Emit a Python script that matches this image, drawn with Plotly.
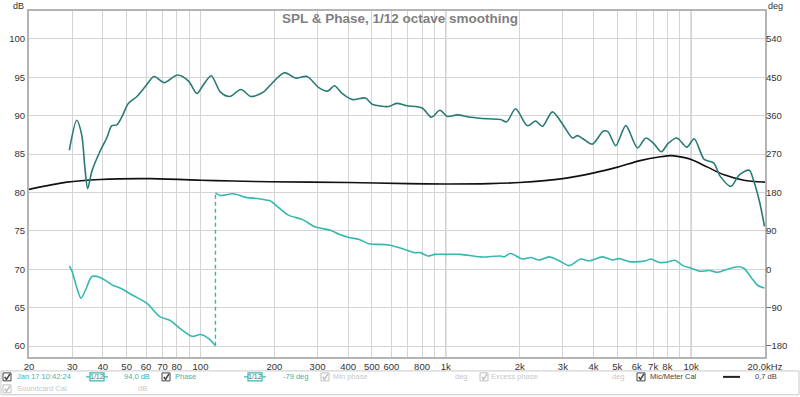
import plotly.graph_objects as go

# ---------------- data ----------------
spl_freq = [29.2, 31.3, 32.8, 33.8, 34.7, 36.1, 39.0, 41.5, 43.5, 45.6, 47.9, 50.8, 55.1, 59.6,
            64.7, 71.1, 80.6, 89.4, 96.7, 102.6, 110.6, 120.4, 131.4, 146.3, 160.7, 180.9,
            192.7, 219.7, 243.7, 272, 303.5, 330, 351.6, 377.7, 415, 470, 501, 585.7, 629, 696,
            801, 873, 946, 1014, 1113, 1262, 1476, 1673, 1771, 1925, 2150, 2325, 2476, 2720,
            3034, 3282, 3440, 3660, 3960, 4391, 4585, 4930, 5415, 6046, 6536, 7026, 7570, 8058,
            8748, 9606, 10291, 11300, 12345, 13140, 14520, 15710, 17260, 17990, 18970, 19900]
spl_db = [85.5, 89.4, 87.5, 83.2, 80.5, 82.8, 85.4, 87.1, 88.7, 88.8, 89.9, 91.6, 92.5, 93.8,
          95.1, 94.3, 95.3, 94.5, 92.9, 94.0, 95.2, 93.1, 92.5, 93.4, 92.5, 93.1,
          94.0, 95.6, 94.9, 95.1, 93.65, 93.2, 93.9, 92.9, 92.1, 92.3, 91.5, 91.2, 91.6, 91.3,
          91.0, 89.8, 90.7, 89.9, 90.1, 89.8, 89.6, 89.5, 89.2, 90.9, 88.7, 89.3, 88.6, 90.5,
          88.6, 87.1, 87.4, 86.9, 86.3, 88.0, 87.9, 86.1, 88.7, 85.8, 87.1, 86.4, 85.3, 86.4,
          87.1, 85.9, 87.0, 84.3, 83.85, 82.1, 80.8, 82.3, 82.9, 81.5, 78.9, 75.6]

phase_freq_lo = [29.2, 29.9, 31.2, 32.6, 34.2, 36.1, 39.0, 44.1, 47.0, 53.4, 60.6, 68.2, 75.3,
                 82.6, 92.3, 100, 108.4, 115.1]
phase_deg_lo = [7, -3, -40, -68, -45, -17, -19, -38, -44, -62, -80, -111, -120,
                -139, -157, -153, -163, -179]

phase_freq_hi = [115.1, 120.4, 136, 154.8, 170.9, 187, 193, 228, 259.6, 294.5, 339, 367, 407,
                 441.5, 486, 585.7, 696, 743, 788, 845, 900, 1000, 1151, 1384, 1673, 1726, 1837,
                 2051, 2218, 2400, 2635, 2897, 3184, 3552, 3840, 4350, 4780, 5090, 5590, 6536,
                 6855, 7420, 8000, 8580, 9240, 10000, 10800, 11870, 12850, 14140, 15480, 16400,
                 17560, 18700, 19900]
phase_deg_hi = [179, 173, 177, 168, 166, 162, 160, 127, 117, 99, 91.5, 82, 74,
                70.6, 60, 57, 44.6, 39, 39, 31, 35, 35, 35, 29, 31, 29, 37,
                24, 27.7, 21.6, 29, 20, 8.6, 24, 20, 29, 22, 25, 18, 20,
                24, 16, 17, 21, 8.6, 2.5, -4.6, -3, -7, 0.7, 6, 2.5,
                -19, -38, -44]

cal_freq = [20, 28.5, 39, 62.4, 100, 136, 191, 400, 700, 1000, 1500, 2000, 3000, 4016, 5011,
            6192, 7500, 8300, 8810, 10000, 11660, 13630, 16400, 20000]
cal_db = [80.4, 81.35, 81.7, 81.8, 81.6, 81.5, 81.4, 81.3, 81.15, 81.1, 81.15, 81.3, 81.8, 82.55,
          83.3, 84.15, 84.65, 84.8, 84.7, 84.3, 83.3, 82.3, 81.6, 81.35]

x_grid = [20, 30, 40, 50, 60, 70, 80, 90, 100, 200, 300, 400, 500, 600, 700, 800, 900, 1000,
          2000, 3000, 4000, 5000, 6000, 7000, 8000, 9000, 10000, 20000]
x_labels = ["20", "30", "40", "50", "60", "70", "80", "", "100", "200", "300", "400", "500",
            "600", "", "800", "", "1k", "2k", "3k", "4k", "5k", "6k", "7k", "8k", "", "10k",
            "20,0kHz"]
x_major = [100, 1000, 10000]
db_ticks = [60, 65, 70, 75, 80, 85, 90, 95, 100]
deg_ticks = [-180, -90, 0, 90, 180, 270, 360, 450, 540]

# ---------------- styling ----------------
SPL_C = "#2a7a74"
PH_C = "#35b8ae"
FONT = "Liberation Sans"
W, H = 800, 397
L, R, T, B = 29, 35, 9, 40
PW, PH = W - L - R, H - T - B


def px(x):
    return (x - L) / PW


def py(y):
    return (H - B - y) / PH


fig = go.Figure()
fig.add_trace(go.Scatter(x=cal_freq, y=cal_db, mode="lines", line=dict(color="#111111", width=1.6,
                         shape="spline", smoothing=0.8), yaxis="y", hoverinfo="skip"))
fig.add_trace(go.Scatter(x=spl_freq, y=spl_db, mode="lines", line=dict(color=SPL_C, width=1.6,
                         shape="spline", smoothing=0.8), yaxis="y", hoverinfo="skip"))
fig.add_trace(go.Scatter(x=phase_freq_lo, y=phase_deg_lo, mode="lines", line=dict(color=PH_C, width=1.6,
                         shape="spline", smoothing=0.8), yaxis="y2", hoverinfo="skip"))
fig.add_trace(go.Scatter(x=[phase_freq_lo[-1], phase_freq_hi[0]], y=[phase_deg_lo[-1], phase_deg_hi[0]],
                         mode="lines", line=dict(color=PH_C, width=1.4, dash="4px,3px"),
                         yaxis="y2", hoverinfo="skip"))
fig.add_trace(go.Scatter(x=phase_freq_hi, y=phase_deg_hi, mode="lines", line=dict(color=PH_C, width=1.6,
                         shape="spline", smoothing=0.8), yaxis="y2", hoverinfo="skip"))

db_lo, db_hi = 58.58, 103.63
fig.update_layout(
    width=W, height=H, margin=dict(l=L, r=R, t=T, b=B, pad=0),
    paper_bgcolor="white", plot_bgcolor="white", showlegend=False,
    font=dict(family=FONT, size=9, color="#333333"),
    xaxis=dict(type="log", range=[1.30103, 4.30103], tickvals=x_grid, ticktext=x_labels,
               showgrid=True, gridcolor="#d4d4d4", gridwidth=1, zeroline=False,
               showline=True, linecolor="#b4b4b4", linewidth=2, mirror=True, ticks="",
               tickfont=dict(size=9.5, color="#333")),
    yaxis=dict(range=[db_lo, db_hi], tickvals=db_ticks, showgrid=True, gridcolor="#d4d4d4",
               zeroline=False, showline=True, linecolor="#b4b4b4", linewidth=2, mirror=True,
               ticks="", tickfont=dict(size=9.5, color="#333")),
    yaxis2=dict(range=[18 * (db_lo - 70), 18 * (db_hi - 70)], tickvals=deg_ticks, overlaying="y",
                side="right", showgrid=False, zeroline=False, ticks="",
                tickfont=dict(size=9.5, color="#333")),
)

shapes = []
for f in x_major:
    shapes.append(dict(type="line", xref="x", yref="paper", x0=f, x1=f, y0=0, y1=1,
                       line=dict(color="#a0a0a0", width=1), layer="below"))

# legend box at bottom
shapes.append(dict(type="rect", xref="paper", yref="paper", x0=px(1), x1=px(799), y0=py(371), y1=py(395),
                   line=dict(color="#c8c8c8", width=1), fillcolor="white"))

annots = []
annots.append(dict(text="SPL & Phase, 1/12 octave smoothing", xref="paper", yref="paper",
                   x=px(400), y=py(17), xanchor="center", yanchor="middle", showarrow=False,
                   font=dict(family=FONT, size=13.5, color="#808080", weight="bold")))
annots.append(dict(text="dB", xref="paper", yref="paper", x=px(26), y=py(4), xanchor="right",
                   yanchor="middle", showarrow=False, font=dict(size=9, color="#333")))
annots.append(dict(text="deg", xref="paper", yref="paper", x=px(766), y=py(4), xanchor="left",
                   yanchor="middle", showarrow=False, font=dict(size=9, color="#333")))


def checkbox(x, y, enabled=True):
    c = "#444444" if enabled else "#c0c0c0"
    shapes.append(dict(type="rect", xref="paper", yref="paper", x0=px(x), x1=px(x + 8),
                       y0=py(y + 4), y1=py(y - 4), line=dict(color=c, width=1), fillcolor="white"))
    path = "M {:.5f},{:.5f} L {:.5f},{:.5f} L {:.5f},{:.5f}".format(
        px(x + 1.8), py(y), px(x + 3.5), py(y + 2.5), px(x + 7), py(y - 3))
    shapes.append(dict(type="path", xref="paper", yref="paper", path=path,
                       line=dict(color=c, width=1.6)))


def label(text, x, y, color, size=7.5, anchor="left"):
    annots.append(dict(text=text, xref="paper", yref="paper", x=px(x), y=py(y), xanchor=anchor,
                       yanchor="middle", showarrow=False, font=dict(size=size, color=color)))


def smooth_icon(xc, y):
    shapes.append(dict(type="rect", xref="paper", yref="paper", x0=px(xc - 7), x1=px(xc + 7),
                       y0=py(y + 4), y1=py(y - 4), line=dict(color=PH_C, width=1.2), fillcolor="white"))
    shapes.append(dict(type="line", xref="paper", yref="paper", x0=px(xc - 11), x1=px(xc - 7),
                       y0=py(y), y1=py(y), line=dict(color=PH_C, width=1.2)))
    shapes.append(dict(type="line", xref="paper", yref="paper", x0=px(xc + 7), x1=px(xc + 11),
                       y0=py(y), y1=py(y), line=dict(color=PH_C, width=1.2)))
    label("1/12", xc, y, SPL_C, size=7, anchor="center")


r1, r2 = 377, 389
checkbox(3, r1)
label("Jan 17 10:42:24", 15, r1, PH_C)
smooth_icon(97, r1)
label("94,0 dB", 122, r1, PH_C)
checkbox(162, r1)
label("Phase", 173, r1, PH_C)
smooth_icon(255, r1)
label("-79 deg", 281, r1, PH_C)
checkbox(321, r1, enabled=False)
label("Min phase", 331, r1, "#c8c8c8")
label("deg", 453, r1, "#c8c8c8")
checkbox(480, r1, enabled=False)
label("Excess phase", 489, r1, "#c8c8c8")
label("deg", 610, r1, "#c8c8c8")
checkbox(637, r1)
label("Mic/Meter Cal", 648, r1, "#444")
shapes.append(dict(type="line", xref="paper", yref="paper", x0=px(723), x1=px(740), y0=py(r1), y1=py(r1),
                   line=dict(color="#222", width=2)))
label("0,7 dB", 753, r1, "#444")
checkbox(3, r2, enabled=False)
label("Soundcard Cal", 15, r2, "#c8c8c8")
label("dB", 136, r2, "#c8c8c8")

fig.update_layout(shapes=shapes, annotations=annots)
fig.write_html("out.html", config={"displayModeBar": False},
               post_script="document.body.style.margin='0';document.body.style.overflow='hidden';")
